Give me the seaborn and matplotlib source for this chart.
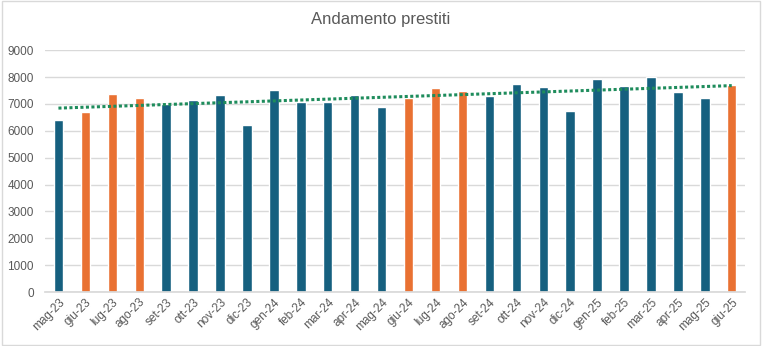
import numpy as np
import pandas as pd
import matplotlib
matplotlib.use("Agg")
import matplotlib.pyplot as plt
import seaborn as sns
from matplotlib.patches import Rectangle

months = ["mag-23", "giu-23", "lug-23", "ago-23", "set-23", "ott-23", "nov-23", "dic-23",
          "gen-24", "feb-24", "mar-24", "apr-24", "mag-24", "giu-24", "lug-24", "ago-24",
          "set-24", "ott-24", "nov-24", "dic-24", "gen-25", "feb-25", "mar-25", "apr-25",
          "mag-25", "giu-25"]
values = [6400, 6700, 7370, 7220, 7000, 7140, 7330, 6210,
          7510, 7070, 7070, 7330, 6880, 7210, 7590, 7480,
          7290, 7740, 7620, 6730, 7920, 7660, 8000, 7440,
          7210, 7700]
summer = ["giu", "lug", "ago"]
groups = ["estate" if m.split("-")[0] in summer else "altro" for m in months]

df = pd.DataFrame({"mese": months, "prestiti": values, "gruppo": groups})

sns.set_theme(style="white")
plt.rcParams["font.family"] = ["Liberation Sans", "DejaVu Sans"]

fig = plt.figure(figsize=(7.62, 3.46), dpi=100)
ax = fig.add_axes([0.059, 0.156, 0.919, 0.699])

sns.barplot(data=df, x="mese", y="prestiti", hue="gruppo",
            palette={"altro": "#16607f", "estate": "#e97132"},
            dodge=False, width=0.35, legend=False, ax=ax, saturation=1)

xs = np.arange(len(values))
k, b = np.polyfit(xs, values, 1)
ax.plot([xs[0], xs[-1]], [k * xs[0] + b, k * xs[-1] + b], linestyle=(0, (1, 0.8)),
        color="#1e8c5c", linewidth=2.2, zorder=3)

ax.set_xlim(-0.5, len(values) - 0.5)
ax.set_ylim(0, 9000)
ax.set_yticks(range(0, 9001, 1000))
ax.yaxis.grid(True, color="#d9d9d9", linewidth=1)
ax.set_axisbelow(True)
for s in ["top", "right", "left"]:
    ax.spines[s].set_visible(False)
ax.spines["bottom"].set_color("#d9d9d9")
ax.set_xlabel("")
ax.set_ylabel("")
ax.tick_params(axis="both", length=0, labelsize=8.5, colors="#595959", pad=3)
ax.tick_params(axis="y", pad=8)
plt.setp(ax.get_xticklabels(), rotation=45, ha="right", rotation_mode="anchor")

fig.text(0.5, 0.945, "Andamento prestiti", ha="center", va="center",
         fontsize=12, color="#595959")
fig.patches.append(Rectangle((0.002, 0.003), 0.996, 0.994, transform=fig.transFigure,
                             fill=False, edgecolor="#d9d9d9", linewidth=1))

fig.savefig("out.png", dpi=100)
